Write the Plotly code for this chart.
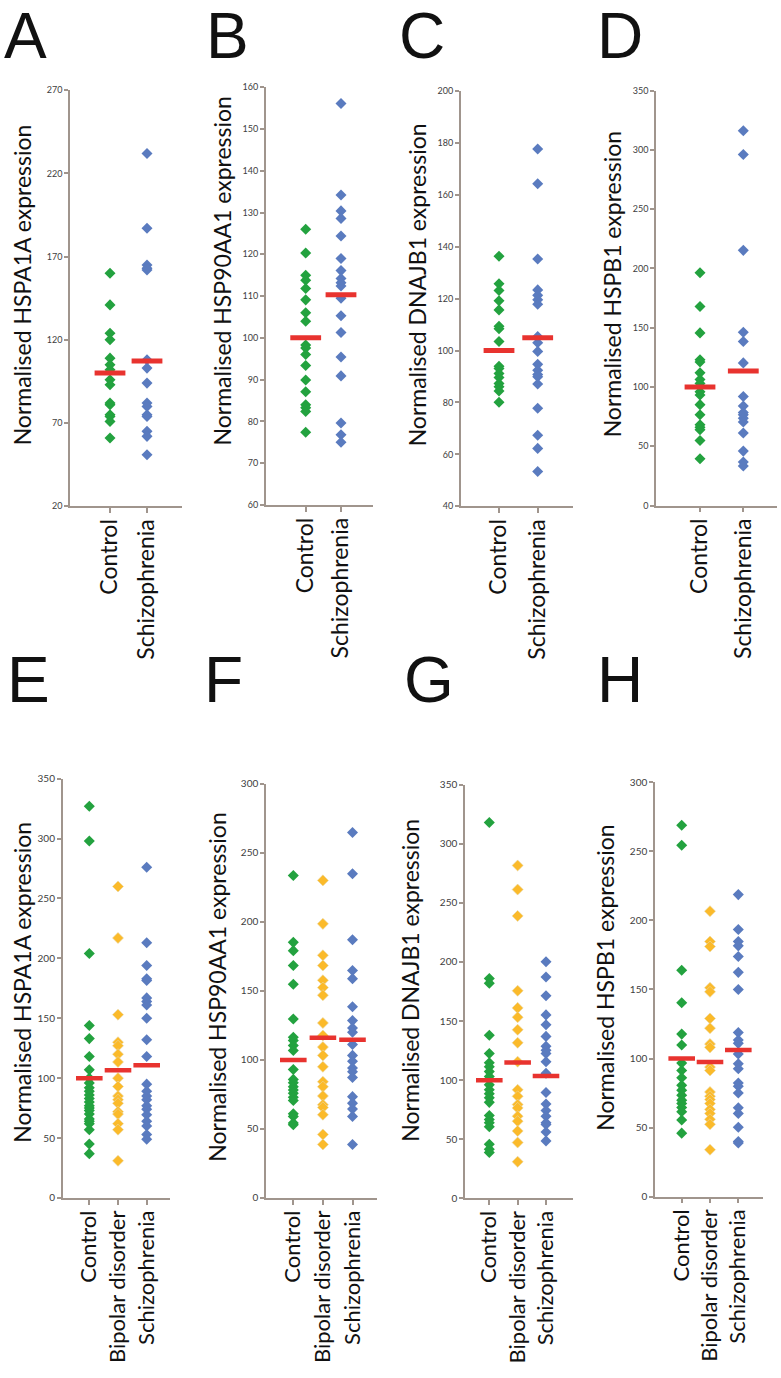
import plotly.graph_objects as go

W, H = 781, 1378
FONT = "Lato"
AXIS_COLOR = "#a0958d"
GREEN = "#23a23f"
YELLOW = "#fbba2a"
BLUE = "#5a7bbf"
RED = "#e8332f"

# ---------------- data ----------------
cats_two = ["Control", "Schizophrenia"]
cats_three = ["Control", "Bipolar disorder", "Schizophrenia"]

# A - HSPA1A (top)
a_control = [160, 141, 124, 120, 109, 105, 102, 96, 93, 82, 81, 75, 74, 71, 61]
a_schizo = [232, 187, 165, 163, 162, 108, 103, 94, 82, 80, 75, 74, 65, 62, 51]
a_means = [100, 107.3]

# B - HSP90AA1 (top)
b_control = [126, 120.3, 115, 113.8, 111.8, 109.1, 106, 104, 98.3, 97.6, 96, 93.4, 89.9, 87.1, 84, 83.3, 82.4, 77.4]
b_schizo = [156.1, 134.2, 130.4, 128.6, 124.4, 119, 116.1, 114.2, 113.2, 112.4, 109.5, 105.3, 101.3, 95.4, 90.9, 79.6, 76.8, 75]
b_means = [100, 110.3]

# C - DNAJB1 (top)
c_control = [136.4, 125.8, 123.2, 119.2, 115.7, 109.4, 108.4, 103.5, 94, 93.1, 91.2, 89.6, 87.3, 86.1, 84.4, 80.1]
c_schizo = [177.7, 164.3, 135.3, 123.4, 121.3, 119.6, 117.9, 105.4, 103, 99.7, 94.7, 92.4, 90.8, 89.9, 87.1, 77.8, 67.4, 62.3, 53.4]
c_means = [100, 105]

# D - HSPB1 (top)
d_control = [196.3, 167.9, 145.6, 123, 121.1, 111.9, 106.3, 103, 96, 93.2, 85.1, 76.5, 68.2, 66, 64, 54.8, 39.5]
d_schizo = [316, 296, 215.2, 146.2, 138.4, 120.3, 91.9, 84, 78.5, 76.5, 73.7, 70.4, 61.2, 45.9, 36.7, 33.4]
d_means = [100, 113.5]

# E - HSPA1A (bottom)
e_control = [327, 298, 204, 144, 133, 118, 107, 100, 96, 92, 89, 86, 83, 80, 77, 75, 73, 70, 66, 64, 62, 57, 45, 37]
e_bipolar = [260, 217, 153, 130, 127, 120, 113.5, 100, 93, 85, 82, 79, 72, 70, 62, 57, 31]
e_schizo = [276, 213, 194, 183, 181.6, 167, 164, 161, 150, 132, 118, 95, 89, 85, 82, 77, 74, 69.5, 64, 60, 53, 49]
e_means = [100, 106.5, 110.8]

# F - HSP90AA1 (bottom)
f_control = [233.7, 185.2, 179.2, 168.4, 154.8, 129.7, 116.5, 114.1, 110.5, 106.9, 93.1, 85.9, 83.5, 80.6, 78.2, 75.8, 73, 70.6, 61, 59.1, 54.3, 53.1]
f_bipolar = [230.1, 198.6, 175.8, 168.4, 157.7, 152.4, 146.9, 126.8, 117.7, 109.3, 103.3, 95, 84.2, 80.6, 73.9, 67.5, 65.6, 60.3, 46, 38.8]
f_schizo = [264.8, 234.9, 187.1, 164.8, 158.9, 138.5, 128.5, 123.2, 120.1, 111.2, 103.3, 99, 94.2, 91.4, 87.3, 73.4, 68.7, 64.4, 59.1, 38.8]
f_means = [100, 116, 114.7]

# G - DNAJB1 (bottom)
g_control = [317.9, 185.9, 182, 137.9, 122.5, 114.7, 111.4, 107.2, 103, 96, 91.8, 88.5, 85, 81.2, 70.1, 66.7, 63.9, 60.6, 45.8, 41.6, 38.8]
g_bipolar = [281.6, 261.2, 238.9, 175.6, 161.1, 153.2, 142.6, 131.6, 115.6, 91.8, 86.3, 79.3, 76.5, 69.5, 65.3, 57, 47.2, 31]
g_schizo = [200.1, 187.3, 171.4, 155.2, 146.8, 137, 128.7, 125.3, 122.5, 115.6, 105.8, 89.6, 79.8, 74.3, 69.5, 63.9, 62.5, 56.1, 48.6]
g_means = [100, 115, 103.6]

# H - HSPB1 (bottom)
h_control = [268.9, 254.5, 163.9, 140.4, 117.7, 109.8, 96.7, 91.4, 86.1, 80.6, 77, 73.4, 69.9, 67.5, 64.6, 61.5, 55.5, 46]
h_bipolar = [206.7, 184.7, 181.1, 151.2, 148.3, 129, 122, 110.5, 108.1, 93.8, 91.4, 75.8, 72.7, 70.3, 67.5, 63.2, 60.3, 56, 52.4, 34]
h_schizo = [218.7, 193.5, 184.7, 181.6, 173.9, 162.4, 150, 118.9, 113.4, 111, 103.3, 96.2, 92.6, 82.3, 80, 75.1, 64.4, 60.3, 50.2, 40, 38.8]
h_means = [100, 97.5, 106.2]

y_titles = [
    "Normalised HSPA1A expression", "Normalised HSP90AA1 expression",
    "Normalised DNAJB1 expression", "Normalised HSPB1 expression",
    "Normalised HSPA1A expression", "Normalised HSP90AA1 expression",
    "Normalised DNAJB1 expression", "Normalised HSPB1 expression",
]
letters = ["A", "B", "C", "D", "E", "F", "G", "H"]
y_ranges = [(20, 270), (60, 160), (40, 200), (0, 350), (0, 350), (0, 300), (0, 350), (0, 300)]
y_dticks = [50, 10, 20, 50, 50, 50, 50, 50]

groups = [
    ([a_control, a_schizo], a_means),
    ([b_control, b_schizo], b_means),
    ([c_control, c_schizo], c_means),
    ([d_control, d_schizo], d_means),
    ([e_control, e_bipolar, e_schizo], e_means),
    ([f_control, f_bipolar, f_schizo], f_means),
    ([g_control, g_bipolar, g_schizo], g_means),
    ([h_control, h_bipolar, h_schizo], h_means),
]

# ---------------- layout geometry (page pixels) ----------------
# (axis_left, axis_right, first_cat_px, cat_spacing, plot_top, plot_bottom)
geom = [
    (70, 182, 110, 37.0, 84, 504),
    (265.7, 373, 305.7, 35.3, 81, 502.7),
    (460.7, 573, 499, 38.7, 85, 504),
    (656, 776.7, 700, 43.3, 84.3, 503.3),
    (62.7, 170, 89.3, 28.7, 779, 1202.3),
    (266, 376.7, 293.3, 29.6, 784.3, 1202.3),
    (465, 573.3, 489.3, 28.35, 785, 1202.7),
    (655, 762.7, 681.7, 28.3, 782.7, 1201),
]
title_pos = [(22, 281), (222, 267), (417, 281), (612, 280),
             (22, 985), (217, 990), (410, 982), (605, 980)]
letter_pos = [(3, -8), (205, -8), (398, -8), (596, -8),
              (6, 642), (203, 642), (403, 642), (596, 642)]


def px(x):
    return x / W


def py(y):
    return 1 - y / H


fig = go.Figure()
annotations = []
layout = {}

for i in range(8):
    series, means = groups[i]
    ncat = len(series)
    top = ncat == 2
    cats = cats_two if top else cats_three
    colors = [GREEN, BLUE] if top else [GREEN, YELLOW, BLUE]
    ax = "" if i == 0 else str(i + 1)
    xref, yref = "x" + ax, "y" + ax
    for k, vals in enumerate(series):
        fig.add_trace(go.Scatter(
            x=[k] * len(vals), y=vals, mode="markers", xaxis=xref, yaxis=yref,
            marker=dict(symbol="diamond", size=8.5, color=colors[k],
                        line=dict(width=0.6 if colors[k] == YELLOW else 0,
                                  color="#e8d9a8")),
            showlegend=False, hoverinfo="y"))
    fig.add_trace(go.Scatter(
        x=list(range(ncat)), y=means, mode="markers", xaxis=xref, yaxis=yref,
        marker=dict(symbol="line-ew", size=22 if top else 19,
                    line=dict(width=5 if top else 4.5, color=RED)),
        showlegend=False, hoverinfo="y"))

    al, ar, c0, sp, pt, pb = geom[i]
    layout["xaxis" + ax] = dict(
        domain=[px(al), px(ar)], range=[(al - c0) / sp, (ar - c0) / sp],
        anchor=yref, tickmode="array", tickvals=list(range(ncat)), ticktext=cats,
        tickangle=-90, showgrid=False, zeroline=False, showline=True,
        linecolor=AXIS_COLOR, linewidth=1.5, ticks="outside", ticklen=5,
        tickcolor=AXIS_COLOR, tickwidth=1.5, ticklabelstandoff=-3,
        tickfont=dict(family=FONT, size=23 if top else 22, color="#111"),
        fixedrange=True)
    y0, y1 = y_ranges[i]
    layout["yaxis" + ax] = dict(
        domain=[py(pb), py(pt)], range=[y0, y1], anchor=xref,
        tickmode="linear", tick0=y0, dtick=y_dticks[i],
        showgrid=False, zeroline=False, showline=True, linecolor=AXIS_COLOR,
        linewidth=1.5, ticks="outside", ticklen=4, tickcolor=AXIS_COLOR,
        tickwidth=1.5, tickfont=dict(family=FONT, size=9 if top else 10, color="#404040"),
        fixedrange=True)

    tx, ty = title_pos[i]
    annotations.append(dict(
        text=y_titles[i], x=px(tx), y=py(ty), xref="paper", yref="paper",
        textangle=-90, showarrow=False, xanchor="center", yanchor="middle",
        font=dict(family=FONT, size=23, color="#111")))
    lx, ly = letter_pos[i]
    annotations.append(dict(
        text=letters[i], x=px(lx), y=py(ly), xref="paper", yref="paper",
        showarrow=False, xanchor="left", yanchor="top", borderpad=0,
        font=dict(family="Liberation Sans", size=64, color="#111")))

fig.update_layout(
    width=W, height=H, margin=dict(l=0, r=0, t=0, b=0),
    paper_bgcolor="white", plot_bgcolor="white",
    annotations=annotations, **layout)

fig.write_html(
    "out.html",
    config={"displayModeBar": False},
    post_script="document.body.style.margin='0';document.body.style.overflow='hidden';")
